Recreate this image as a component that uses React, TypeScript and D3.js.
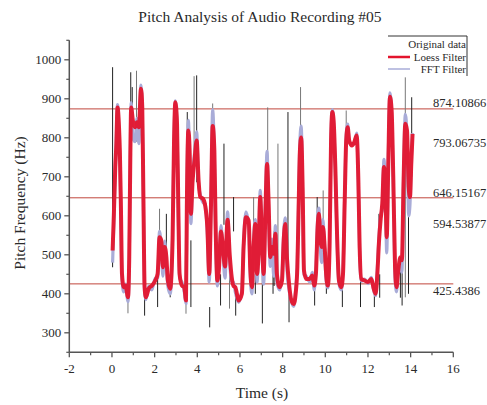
import React from 'react';
import * as d3 from 'd3';

const W = 487;
const H = 405;

const title = 'Pitch Analysis of Audio Recording #05';
const xLabel = 'Time (s)';
const yLabel = 'Pitch Frequency (Hz)';

const xTicks = [-2, 0, 2, 4, 6, 8, 10, 12, 14, 16];
const xMinor = [-1, 1, 3, 5, 7, 9, 11, 13, 15];
const yTicks = [300, 400, 500, 600, 700, 800, 900, 1000];
const yMinor = [250, 350, 450, 550, 650, 750, 850, 950, 1050];

const refLines = [874.10866, 646.15167, 425.4386];
const refLabels = ['874.10866', '793.06735', '646.15167', '594.53877', '425.4386'];
const refLabelValues = [874.10866, 793.06735, 646.15167, 594.53877, 425.4386];

const legendNames = ['Original data', 'Loess Filter', 'FFT Filter'];

// Loess-filtered pitch [time s, Hz]
const loess: [number, number][] = [
  [0.03, 511], [0.09, 605], [0.155, 725], [0.2, 776], [0.26, 878], [0.33, 827], [0.37, 767], [0.42, 622],
  [0.47, 451], [0.55, 417], [0.64, 421], [0.75, 391], [0.81, 494], [0.86, 750], [0.9, 878], [0.98, 844],
  [1.08, 827], [1.17, 840], [1.26, 827], [1.36, 926], [1.42, 878], [1.47, 665], [1.53, 417], [1.59, 391],
  [1.72, 413], [1.87, 421], [2.03, 434], [2.14, 451], [2.23, 545], [2.31, 537], [2.39, 468], [2.47, 520],
  [2.55, 494], [2.62, 434], [2.73, 413], [2.84, 537], [2.91, 793], [2.97, 891], [3.05, 836], [3.11, 622],
  [3.17, 451], [3.28, 421], [3.39, 417], [3.47, 383], [3.51, 622], [3.58, 819], [3.64, 767], [3.7, 605],
  [3.78, 690], [3.87, 742], [3.97, 793], [4.06, 690], [4.14, 648], [4.26, 644], [4.37, 626], [4.47, 571],
  [4.56, 451], [4.64, 622], [4.72, 830], [4.8, 767], [4.86, 571], [4.94, 434], [5.01, 460], [5.11, 560],
  [5.2, 520], [5.3, 470], [5.42, 590], [5.52, 500], [5.62, 440], [5.7, 420], [5.78, 417], [5.94, 383],
  [6.09, 400], [6.17, 520], [6.28, 596], [6.41, 588], [6.48, 468], [6.56, 417], [6.64, 520], [6.72, 579],
  [6.8, 451], [6.87, 503], [6.95, 648], [7.03, 537], [7.11, 451], [7.19, 605], [7.27, 733], [7.34, 639],
  [7.42, 494], [7.5, 520], [7.58, 503], [7.66, 554], [7.73, 451], [7.86, 417], [7.97, 434], [8.05, 537],
  [8.12, 579], [8.2, 494], [8.3, 426], [8.41, 383], [8.52, 374], [8.61, 400], [8.69, 468], [8.75, 622],
  [8.81, 767], [8.87, 801], [8.94, 665], [9.0, 460], [9.11, 438], [9.27, 438], [9.39, 447], [9.48, 421],
  [9.56, 451], [9.64, 571], [9.7, 605], [9.77, 537], [9.83, 520], [9.89, 571], [9.97, 520], [10.05, 443],
  [10.12, 421], [10.2, 520], [10.27, 793], [10.33, 866], [10.39, 844], [10.47, 725], [10.55, 554], [10.64, 434],
  [10.75, 417], [10.83, 451], [10.91, 639], [10.98, 793], [11.05, 827], [11.12, 793], [11.25, 780], [11.36, 789],
  [11.47, 806], [11.55, 690], [11.61, 520], [11.69, 438], [11.84, 434], [12.0, 430], [12.16, 438], [12.27, 413],
  [12.36, 400], [12.44, 451], [12.52, 537], [12.59, 588], [12.67, 631], [12.75, 725], [12.81, 690], [12.88, 545],
  [12.95, 725], [13.03, 905], [13.11, 870], [13.19, 690], [13.27, 468], [13.34, 417], [13.42, 460], [13.52, 494],
  [13.59, 486], [13.67, 690], [13.75, 836], [13.83, 819], [13.91, 673], [13.97, 648], [14.03, 733], [14.09, 810],
];

// FFT-filtered pitch [time s, Hz]
const fft: [number, number][] = [
  [0.03, 480], [0.09, 590], [0.155, 715], [0.2, 790], [0.26, 885], [0.33, 815], [0.37, 740], [0.42, 600],
  [0.47, 440], [0.55, 405], [0.64, 425], [0.75, 380], [0.81, 480], [0.86, 760], [0.9, 890], [0.98, 800],
  [1.08, 790], [1.17, 850], [1.26, 785], [1.36, 935], [1.42, 870], [1.47, 650], [1.53, 405], [1.59, 385],
  [1.72, 420], [1.87, 410], [2.03, 440], [2.14, 440], [2.23, 560], [2.31, 520], [2.39, 445], [2.47, 535],
  [2.55, 470], [2.62, 420], [2.73, 400], [2.84, 545], [2.91, 800], [2.97, 895], [3.05, 830], [3.11, 610],
  [3.17, 440], [3.28, 430], [3.39, 405], [3.47, 375], [3.51, 640], [3.58, 845], [3.64, 745], [3.7, 580],
  [3.78, 700], [3.87, 760], [3.97, 815], [4.06, 680], [4.14, 655], [4.26, 635], [4.37, 630], [4.47, 555],
  [4.56, 430], [4.64, 640], [4.72, 872], [4.8, 750], [4.86, 555], [4.94, 420], [5.01, 470], [5.11, 575],
  [5.2, 505], [5.3, 440], [5.42, 610], [5.52, 480], [5.62, 430], [5.7, 430], [5.78, 405], [5.94, 378],
  [6.09, 410], [6.17, 530], [6.28, 610], [6.41, 575], [6.48, 450], [6.56, 400], [6.64, 540], [6.72, 590],
  [6.8, 430], [6.87, 515], [6.95, 665], [7.03, 520], [7.11, 425], [7.19, 620], [7.27, 765], [7.34, 620],
  [7.42, 470], [7.5, 540], [7.58, 445], [7.66, 575], [7.73, 430], [7.86, 410], [7.97, 445], [8.05, 555],
  [8.12, 595], [8.2, 470], [8.3, 410], [8.41, 380], [8.52, 368], [8.61, 410], [8.69, 480], [8.75, 640],
  [8.81, 790], [8.87, 830], [8.94, 650], [9.0, 450], [9.11, 445], [9.27, 430], [9.39, 455], [9.48, 410],
  [9.56, 465], [9.64, 590], [9.7, 620], [9.77, 515], [9.83, 480], [9.89, 590], [9.97, 500], [10.05, 430],
  [10.12, 415], [10.2, 535], [10.27, 805], [10.33, 872], [10.39, 838], [10.47, 715], [10.55, 540], [10.64, 425],
  [10.75, 410], [10.83, 460], [10.91, 650], [10.98, 805], [11.05, 835], [11.12, 790], [11.25, 785], [11.36, 785],
  [11.47, 812], [11.55, 680], [11.61, 505], [11.69, 432], [11.84, 438], [12.0, 426], [12.16, 442], [12.27, 408],
  [12.36, 395], [12.44, 465], [12.52, 550], [12.59, 600], [12.67, 615], [12.75, 745], [12.81, 670], [12.88, 505],
  [12.95, 740], [13.03, 915], [13.11, 860], [13.19, 670], [13.27, 440], [13.34, 405], [13.42, 470], [13.52, 470],
  [13.59, 455], [13.67, 700], [13.75, 860], [13.83, 805], [13.91, 600], [13.97, 630], [14.03, 745], [14.09, 812],
];

// Original data excursions [time s, from Hz, to Hz]
const spikes: [number, number, number][] = [
  [0.03, 468, 981], [0.75, 350, 400], [0.88, 800, 968], [0.95, 820, 930], [1.15, 790, 972],
  [1.53, 344, 420], [2.14, 366, 450], [2.23, 540, 618], [2.55, 490, 605], [2.73, 391, 420],
  [3.47, 349, 390], [3.53, 620, 866], [3.7, 366, 537], [3.85, 700, 958], [3.97, 686, 960],
  [4.58, 314, 366], [4.72, 800, 888], [5.09, 370, 450], [5.25, 577, 785], [5.51, 362, 520],
  [5.7, 560, 648], [5.8, 344, 417], [6.64, 520, 648], [6.72, 400, 450], [7.05, 324, 450],
  [7.3, 733, 878], [7.55, 400, 520], [7.6, 420, 560], [7.78, 450, 785], [8.25, 430, 866],
  [8.3, 327, 420], [8.84, 780, 930], [9.5, 370, 421], [9.62, 560, 648], [9.9, 560, 665],
  [10.05, 400, 443], [10.8, 366, 417], [10.98, 793, 870], [11.65, 366, 438], [12.3, 366, 413],
  [12.5, 537, 605], [12.55, 390, 450], [13.0, 830, 905], [13.2, 520, 700], [13.52, 390, 494],
  [13.6, 370, 480], [13.75, 391, 955], [13.9, 400, 673], [14.05, 700, 904],
];

const serif = '"Liberation Serif", "Times New Roman", serif';

export default function App() {
  const x = d3.scaleLinear().domain([-2, 16]).range([69.3, 453.3]);
  const y = d3.scaleLinear().domain([250, 1050]).range([352.3, 40.3]);
  const line = d3
    .line<[number, number]>()
    .x((d) => x(d[0]))
    .y((d) => y(d[1]))
    .curve(d3.curveMonotoneX);

  const labelDy = [-2, 6, -1, 10, 11];
  const axisColor = '#555';
  const textColor = '#2a2a2a';

  return (
    <svg
      width={W}
      height={H}
      style={{ position: 'absolute', left: 0, top: 0, background: '#fff' }}
      fontFamily={serif}
    >
      <text x={260} y={22} textAnchor="middle" fontSize={15.5} fill={textColor}>
        {title}
      </text>

      {refLines.map((v, i) => (
        <line key={'r' + i} x1={x(-2)} x2={x(16)} y1={y(v)} y2={y(v)} stroke="#c0463c" strokeWidth={1} />
      ))}

      {spikes.map((s, i) => (
        <line
          key={'s' + i}
          x1={x(s[0])}
          x2={x(s[0])}
          y1={y(s[1])}
          y2={y(s[2])}
          stroke={i % 3 === 1 ? '#777' : '#222'}
          strokeWidth={1}
        />
      ))}

      <path d={line(fft) || ''} fill="none" stroke="#a9acd8" strokeWidth={3.2} strokeLinejoin="round" />
      <path d={line(loess) || ''} fill="none" stroke="#e3142d" strokeWidth={4} strokeLinejoin="round" opacity={0.95} />

      {refLabels.map((t, i) => (
        <text key={'l' + i} x={433} y={y(refLabelValues[i]) + labelDy[i]} fontSize={12.5} fill={textColor}>
          {t}
        </text>
      ))}

      <line x1={x(-2)} x2={x(-2)} y1={y(1050)} y2={y(250)} stroke={axisColor} strokeWidth={1.5} />
      <line x1={x(-2)} x2={x(16)} y1={y(250)} y2={y(250)} stroke={axisColor} strokeWidth={1.5} />
      {yTicks.map((v) => (
        <g key={'yt' + v}>
          <line x1={x(-2) - 5} x2={x(-2)} y1={y(v)} y2={y(v)} stroke={axisColor} strokeWidth={1.3} />
          <text x={x(-2) - 8} y={y(v) + 4.5} textAnchor="end" fontSize={13} fill={textColor}>
            {v}
          </text>
        </g>
      ))}
      {yMinor.map((v) => (
        <line key={'ym' + v} x1={x(-2) - 3} x2={x(-2)} y1={y(v)} y2={y(v)} stroke={axisColor} strokeWidth={1.2} />
      ))}
      {xTicks.map((v) => (
        <g key={'xt' + v}>
          <line x1={x(v)} x2={x(v)} y1={y(250)} y2={y(250) + 5} stroke={axisColor} strokeWidth={1.3} />
          <text x={x(v)} y={y(250) + 21} textAnchor="middle" fontSize={13} fill={textColor}>
            {v}
          </text>
        </g>
      ))}
      {xMinor.map((v) => (
        <line key={'xm' + v} x1={x(v)} x2={x(v)} y1={y(250)} y2={y(250) + 3} stroke={axisColor} strokeWidth={1.2} />
      ))}

      <text x={262} y={398} textAnchor="middle" fontSize={15.5} fill={textColor}>
        {xLabel}
      </text>
      <text transform={`translate(25, 203) rotate(-90)`} textAnchor="middle" fontSize={15.5} fill={textColor}>
        {yLabel}
      </text>

      <g>
        <line x1={388} x2={467} y1={36} y2={36} stroke="#333" strokeWidth={1} />
        <line x1={467} x2={467} y1={36} y2={76} stroke="#333" strokeWidth={1} />
        <line x1={388} x2={410} y1={57} y2={57} stroke="#e3142d" strokeWidth={2.5} />
        <line x1={388} x2={410} y1={69} y2={69} stroke="#a9acd8" strokeWidth={1.5} />
        {legendNames.map((n, i) => (
          <text key={'lg' + i} x={466} y={48 + i * 12.5} textAnchor="end" fontSize={11} fill={textColor}>
            {n}
          </text>
        ))}
      </g>
    </svg>
  );
}
